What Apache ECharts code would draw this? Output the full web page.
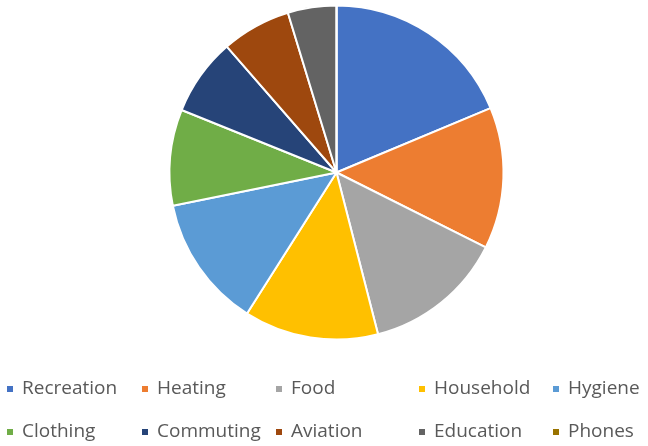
<!DOCTYPE html>
<html>
<head>
<meta charset="utf-8">
<script src="https://cdn.jsdelivr.net/npm/echarts@6/dist/echarts.min.js"></script>
<style>
  html, body { margin: 0; padding: 0; background: #fff; }
  #chart { width: 648px; height: 446px; }
</style>
</head>
<body>
<div id="chart"></div>
<script>
// Spending share by category (percent)
const categories = ['Recreation', 'Heating', 'Food', 'Household', 'Hygiene',
                    'Clothing', 'Commuting', 'Aviation', 'Education', 'Phones'];
const shares = [18.7, 13.7, 13.6, 13.0, 12.8, 9.3, 7.5, 6.7, 4.7, 0];
const palette = ['#4472C4', '#ED7D31', '#A5A5A5', '#FFC000', '#5B9BD5',
                 '#70AD47', '#264478', '#9E480E', '#636363', '#997300'];

// Legend laid out as a 5 x 2 grid
const legendCols = [5, 140, 274, 417, 551];
const legendRows = [379, 422];

const legends = categories.map((name, i) => ({
  data: [name],
  left: legendCols[i % 5],
  top: legendRows[Math.floor(i / 5)],
  padding: 0,
  icon: 'rect',
  itemWidth: 8,
  itemHeight: 8,
  selectedMode: false,
  textStyle: {
    fontFamily: 'Open Sans',
    fontSize: 19,
    color: '#595959',
    lineHeight: 20,
    padding: [0, 0, 0, 3]
  }
}));

const chart = echarts.init(document.getElementById('chart'), null, { renderer: 'canvas' });
chart.setOption({
  animation: false,
  color: palette,
  legend: legends,
  series: [{
    type: 'pie',
    center: [336.5, 172.5],
    radius: 167,
    startAngle: 90,
    clockwise: true,
    avoidLabelOverlap: false,
    label: { show: false },
    labelLine: { show: false },
    itemStyle: { borderColor: '#ffffff', borderWidth: 2 },
    emphasis: { disabled: true },
    data: categories.map((name, i) => ({ name, value: shares[i] }))
  }]
});
</script>
</body>
</html>
